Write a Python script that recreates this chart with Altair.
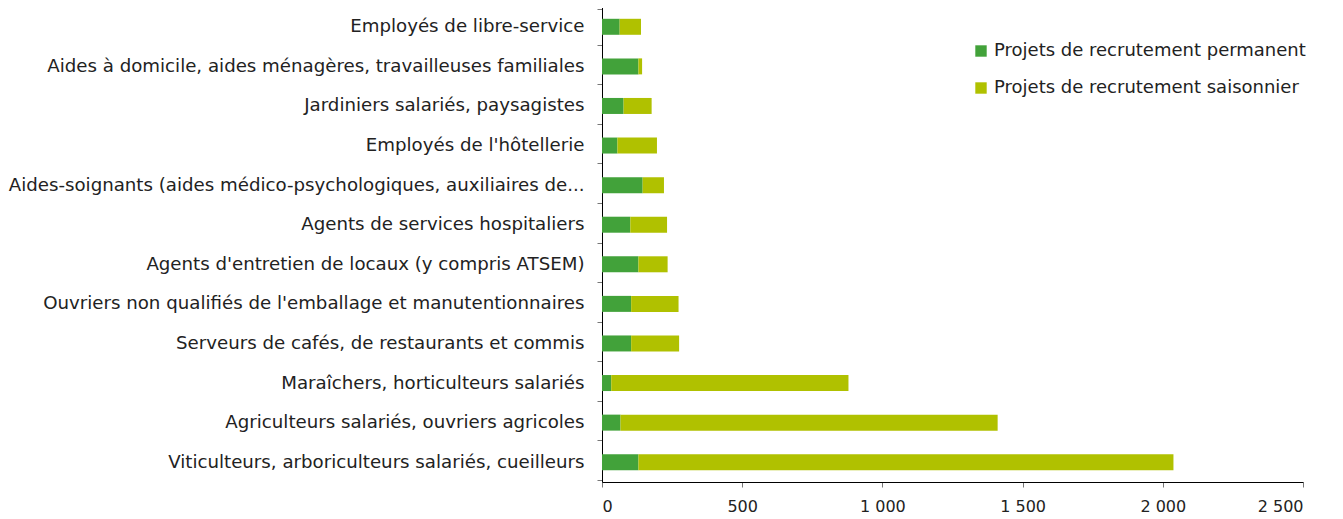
import altair as alt
import pandas as pd

categories = [
    "Employés de libre-service",
    "Aides à domicile, aides ménagères, travailleuses familiales",
    "Jardiniers salariés, paysagistes",
    "Employés de l'hôtellerie",
    "Aides-soignants (aides médico-psychologiques, auxiliaires de...",
    "Agents de services hospitaliers",
    "Agents d'entretien de locaux (y compris ATSEM)",
    "Ouvriers non qualifiés de l'emballage et manutentionnaires",
    "Serveurs de cafés, de restaurants et commis",
    "Maraîchers, horticulteurs salariés",
    "Agriculteurs salariés, ouvriers agricoles",
    "Viticulteurs, arboriculteurs salariés, cueilleurs",
]
permanent = [63, 130, 77, 55, 145, 101, 130, 104, 104, 33, 66, 130]
seasonal = [76, 13, 100, 141, 76, 131, 104, 169, 171, 846, 1345, 1908]
series = ["Projets de recrutement permanent", "Projets de recrutement saisonnier"]
colors = ["#42A23A", "#B0C100"]

rows = []
for c, p, s in zip(categories, permanent, seasonal):
    rows.append({"cat": c, "serie": series[0], "val": p, "ord": 0})
    rows.append({"cat": c, "serie": series[1], "val": s, "ord": 1})
df = pd.DataFrame(rows)

font = "DejaVu Sans"

chart = alt.Chart(df).mark_bar(size=16).encode(
    y=alt.Y("cat:N", sort=categories, title=None,
            axis=alt.Axis(labelFont=font, labelFontSize=18.2, labelColor="#222",
                          labelPadding=13, tickBand="extent", tickColor="#777",
                          tickSize=5, domainColor="#000", labelLimit=800)),
    x=alt.X("val:Q", stack="zero", title=None,
            scale=alt.Scale(domain=[0, 2500], nice=False),
            axis=alt.Axis(values=[0, 500, 1000, 1500, 2000, 2500], grid=False,
                          labelFont=font, labelFontSize=16, labelColor="#222",
                          labelExpr="replace(format(datum.value, ','), ',', ' ')",
                          tickColor="#777", tickSize=5, domainColor="#000",
                          labelPadding=11)),
    color=alt.Color("serie:N", sort=series,
                    scale=alt.Scale(domain=series, range=colors),
                    legend=alt.Legend(title=None, orient="none", legendX=370, legendY=35,
                                      symbolType="square", symbolSize=130,
                                      symbolStrokeWidth=0, labelLimit=600,
                                      labelFont=font, labelFontSize=18, labelColor="#222",
                                      rowPadding=19, labelOffset=4)),
    order=alt.Order("ord:Q"),
).properties(width=701, height=475,
             padding={"left": 0, "top": -11, "right": 0, "bottom": 0}
).configure_view(stroke=None)

chart.save("out.html", embed_options={"renderer": "svg", "actions": False})
